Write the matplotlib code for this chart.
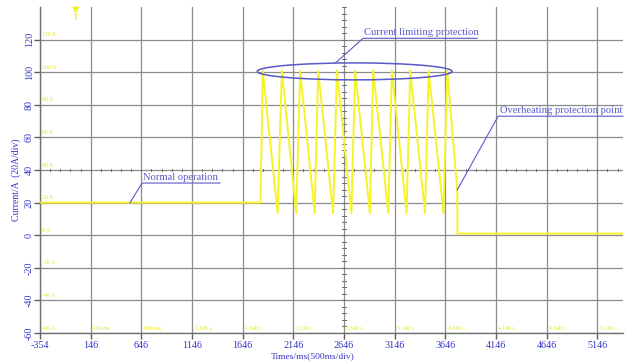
"""Oscilloscope-style current trace: normal operation, current limiting, overheating cut-off."""

import matplotlib.pyplot as plt
import numpy as np
from matplotlib.patches import Ellipse

# ---------------------------------------------------------------------------
# Style tokens
# ---------------------------------------------------------------------------
TRACE = "#f4f42c"  # scope trace yellow
SCOPE_TXT = "#e6e61a"  # small scope readout labels
BLUE = "#3535c8"  # axis tick text
NOTE = "#5a5ac8"  # annotation lines / text
GRID = "#8c8c8c"
SERIF = ["Liberation Serif", "DejaVu Serif"]

plt.rcParams["axes.unicode_minus"] = False

# ---------------------------------------------------------------------------
# Data
# ---------------------------------------------------------------------------
X_TICKS = [-354, 146, 646, 1146, 1646, 2146, 2646, 3146, 3646, 4146, 4646, 5146]
Y_TICKS = [-60, -40, -20, 0, 20, 40, 60, 80, 100, 120]
TIME_READOUT = ["146 ms", "646 ms", "1.146 s", "1.646 s", "2.146 s", "2.646 s",
                "3.146 s", "3.646 s", "4.146 s", "4.646 s", "5.146 s"]

# normal operation segment
NORMAL_T = [-354, 1822]
NORMAL_I = [20.0, 20.0]

# current-limiting sawtooth: peaks and troughs
PEAK_T = [1845, 2033, 2213, 2391, 2576, 2756, 2934, 3119, 3300, 3482, 3665]
PEAK_I = [101, 101, 101, 101, 101, 101, 101, 101, 101, 101, 101]
TROUGH_T = [1991, 2175, 2357, 2539, 2720, 2902, 3084, 3264, 3446, 3628]
TROUGH_I = [13.5, 13.5, 13.5, 13.5, 13.5, 13.5, 13.5, 13.5, 13.5, 13.5]

# overheating trip and after
TRIP_T = [3764, 3766, 5400]
TRIP_I = [27.8, 1.0, 1.0]

X_LIM = (-354, 5400)
Y_LIM = (-60, 140)


def build_trace():
    t = list(NORMAL_T)
    i = list(NORMAL_I)
    for k in range(len(PEAK_T)):
        t.append(PEAK_T[k])
        i.append(PEAK_I[k])
        if k < len(TROUGH_T):
            t.append(TROUGH_T[k])
            i.append(TROUGH_I[k])
    t += TRIP_T
    i += TRIP_I
    return t, i


fig = plt.figure(figsize=(6.32, 3.62), dpi=100, facecolor="white")
ax = fig.add_axes([40 / 632, 1 - 333 / 362, 583 / 632, 326 / 362])
ax.set_xlim(*X_LIM)
ax.set_ylim(*Y_LIM)

for s in ("top", "right"):
    ax.spines[s].set_visible(False)
for s in ("left", "bottom"):
    ax.spines[s].set_color("#707070")
    ax.spines[s].set_linewidth(1.0)

ax.set_xticks(X_TICKS)
ax.set_yticks(Y_TICKS)
ax.grid(True, color=GRID, linewidth=0.9)
ax.set_axisbelow(True)
ax.tick_params(axis="both", colors="#606060", length=4, width=1,
               labelcolor=BLUE, labelsize=7.3)
ax.tick_params(axis="y", pad=0.5)
ax.tick_params(axis="x", pad=1.5)
for lbl in ax.get_xticklabels():
    lbl.set_family(SERIF)
for lbl in ax.get_yticklabels():
    lbl.set_family(SERIF)
    lbl.set_rotation(90)
    lbl.set_va("center")

# centre crosshair sub-division ticks (scope style)
xc, yc = 2646, 40
for xm in np.arange(-354, 5401, 100):
    ax.plot([xm, xm], [yc - 0.8, yc + 0.8], color="#707070", lw=0.7, zorder=1)
for ym in np.arange(-60, 141, 4):
    ax.plot([xc - 18, xc + 18], [ym, ym], color="#707070", lw=0.7, zorder=1)

# small yellow readouts
for yv in Y_TICKS:
    ax.text(-330, yv + 1.5, f"{yv} A", color=SCOPE_TXT, fontsize=4.2,
            family=SERIF, va="bottom", ha="left")
for xv, lab in zip(X_TICKS[1:], TIME_READOUT):
    ax.text(xv + 25, -58.5, lab, color=SCOPE_TXT, fontsize=4.2,
            family=SERIF, va="bottom", ha="left")

# trace
t, i = build_trace()
ax.plot(t, i, color=TRACE, linewidth=1.4, zorder=3)

# trigger marker
ax.text(0, 138.5, "\u25bc", color=TRACE, fontsize=7, ha="center", va="center",
        family="DejaVu Sans", clip_on=False)
ax.text(0, 133.5, "T", color=TRACE, fontsize=6, ha="center", va="center",
        fontweight="bold", family=SERIF, clip_on=False)

# annotations
ax.plot([535, 653, 1423], [20, 32, 32], color=NOTE, lw=0.8, zorder=4)
ax.text(663, 32.8, "Normal operation", color=NOTE, fontsize=7.6,
        family=SERIF, ha="left", va="bottom")

ax.add_patch(Ellipse((2752, 100.5), 1923, 10.4, fill=False,
                     edgecolor=NOTE, linewidth=1.1, zorder=4))
ax.plot([2559, 2835, 3961], [105.5, 120.8, 120.8], color=NOTE, lw=0.8, zorder=4)
ax.text(2845, 121.6, "Current limiting protection", color=NOTE, fontsize=7.6,
        family=SERIF, ha="left", va="bottom")

ax.plot([3764, 4168, 5400], [27.8, 73, 73], color=NOTE, lw=0.8, zorder=4,
        clip_on=False)
ax.text(4188, 73.8, "Overheating protection point", color=NOTE, fontsize=7.6,
        family=SERIF, ha="left", va="bottom")

ax.set_ylabel("Current/A  (20A/div)", color=BLUE, fontsize=7, family=SERIF)
ax.yaxis.set_label_coords(-0.033, 0.47)
ax.set_xlabel("Times/ms(500ms/div)", color=BLUE, fontsize=6.8, family=SERIF)
ax.xaxis.set_label_coords(0.468, -0.058)

fig.savefig("out.png", dpi=100, facecolor="white")
